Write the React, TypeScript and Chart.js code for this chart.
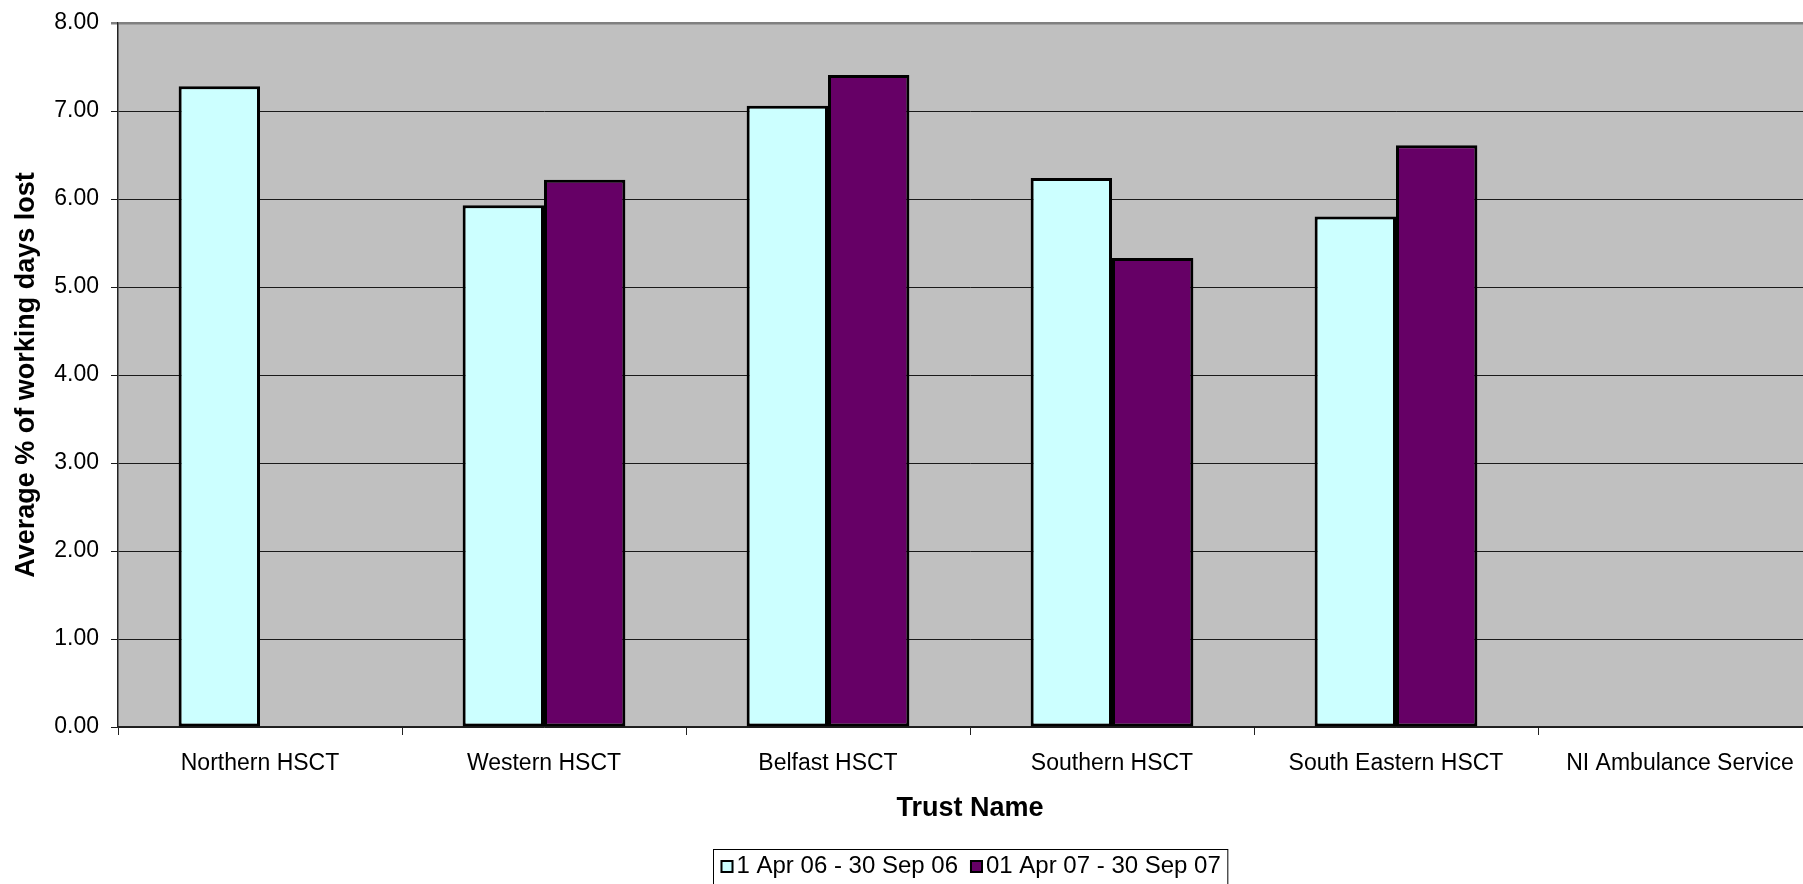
import React, { useEffect, useRef } from "react";
import { Chart, registerables } from "chart.js";

Chart.register(...registerables);

const categories = [
  "Northern HSCT",
  "Western HSCT",
  "Belfast HSCT",
  "Southern HSCT",
  "South Eastern HSCT",
  "NI Ambulance Service",
];
const series2006 = [7.28, 5.93, 7.06, 6.24, 5.8, null];
const series2007 = [null, 6.22, 7.41, 5.33, 6.61, null];
const seriesLabels = ["1 Apr 06 - 30 Sep 06", "01 Apr 07 - 30 Sep 07"];
const seriesColors = ["#CCFFFF", "#660066"];
const yTitle = "Average % of working days lost";
const xTitle = "Trust Name";

const FONT = "'Liberation Sans', Arial, sans-serif";

const plotBg = {
  id: "plotBg",
  beforeDraw(chart: any) {
    const { ctx, chartArea } = chart;
    ctx.save();
    ctx.fillStyle = "#C0C0C0";
    ctx.fillRect(chartArea.left, chartArea.top, chartArea.right - chartArea.left, chartArea.bottom - chartArea.top);
    ctx.restore();
  },
};

const boxedLegend = {
  id: "boxedLegend",
  afterDraw(chart: any) {
    const { ctx, chartArea } = chart;
    const fontSize = 24;
    const box = 13;
    const gapBoxText = 3;
    const gapItems = 12;
    const padX = 7;
    ctx.save();
    ctx.font = `${fontSize}px ${FONT}`;
    const items = chart.data.datasets.map((ds: any) => ({
      text: ds.label,
      color: ds.backgroundColor,
      w: ctx.measureText(ds.label).width,
    }));
    let total = padX * 2;
    items.forEach((it: any, i: number) => {
      total += box + gapBoxText + it.w + (i < items.length - 1 ? gapItems : 0);
    });
    const cx = (chartArea.left + chartArea.right) / 2;
    const left = Math.round(cx - total / 2) + 0.5;
    const top = 841.5;
    const bottom = 900;
    ctx.fillStyle = "#FFFFFF";
    ctx.fillRect(left, top, total, bottom - top);
    ctx.strokeStyle = "#000";
    ctx.lineWidth = 1;
    ctx.strokeRect(left, top, total, bottom - top);
    const baseY = 865;
    const boxTop = 852;
    let x = left + padX;
    items.forEach((it: any) => {
      ctx.fillStyle = it.color;
      ctx.fillRect(x, boxTop, box, box);
      ctx.strokeStyle = "#000";
      ctx.lineWidth = 2;
      ctx.strokeRect(x + 1, boxTop + 1, box - 2, box - 2);
      x += box + gapBoxText;
      ctx.fillStyle = "#000";
      ctx.textBaseline = "alphabetic";
      ctx.textAlign = "left";
      ctx.fillText(it.text, x, baseY);
      x += it.w + gapItems;
    });
    ctx.restore();
  },
};

export default function App() {
  const ref = useRef<HTMLCanvasElement>(null);
  useEffect(() => {
    if (!ref.current) return;
    const chart = new Chart(ref.current, {
      type: "bar",
      data: {
        labels: categories,
        datasets: [
          {
            label: seriesLabels[0],
            data: series2006,
            backgroundColor: seriesColors[0],
            borderColor: "#000",
            borderWidth: 3,
            borderSkipped: false,
            categoryPercentage: 0.573,
            barPercentage: 1,
          },
          {
            label: seriesLabels[1],
            data: series2007,
            backgroundColor: seriesColors[1],
            borderColor: "#000",
            borderWidth: 3,
            borderSkipped: false,
            categoryPercentage: 0.573,
            barPercentage: 1,
          },
        ],
      } as any,
      options: {
        responsive: false,
        animation: false,
        layout: { padding: { top: 15, right: 0, bottom: 57, left: 0 } },
        plugins: {
          legend: { display: false },
          tooltip: { enabled: false },
        },
        scales: {
          x: {
            offset: true,
            grid: {
              display: true,
              drawOnChartArea: false,
              drawTicks: true,
              tickLength: 8,
              offset: true,
              color: "#222",
            },
            border: { display: true, color: "#222", width: 1.5 },
            ticks: {
              color: "#000",
              font: { family: FONT, size: 23 },
              padding: 15,
              maxRotation: 0,
              autoSkip: false,
            },
            title: {
              display: true,
              text: xTitle,
              color: "#000",
              font: { family: FONT, size: 27, weight: "bold" },
              padding: { top: 0, bottom: 2 },
            },
            afterFit(scale: any) {
              scale.height = 100;
              scale.paddingLeft = 0;
              scale.paddingRight = 0;
            },
          },
          y: {
            min: 0,
            max: 8,
            ticks: {
              stepSize: 1,
              color: "#000",
              font: { family: FONT, size: 23 },
              padding: 12,
              callback: (v: any) => Number(v).toFixed(2),
            },
            grid: {
              drawTicks: true,
              tickLength: 7,
              color: (c: any) => (c.tick && c.tick.value === 8 ? "#808080" : "#1a1a1a"),
              lineWidth: (c: any) => (c.tick && c.tick.value === 8 ? 2.5 : 1),
            },
            border: { display: true, color: "#222", width: 1.5 },
            title: {
              display: true,
              text: yTitle,
              color: "#000",
              font: { family: FONT, size: 27, weight: "bold" },
              padding: { top: 2, bottom: 0 },
            },
            afterFit(scale: any) {
              scale.width = 110;
              scale.paddingTop = 0;
              scale.paddingBottom = 0;
            },
          },
        },
      } as any,
      plugins: [plotBg, boxedLegend],
    });
    return () => chart.destroy();
  }, []);
  return (
    <div
      style={{
        position: "fixed",
        left: 8,
        top: 8,
        width: 1795,
        height: 876,
        overflow: "hidden",
        background: "#fff",
      }}
    >
      <canvas ref={ref} width={1814} height={876} style={{ display: "block" }} />
    </div>
  );
}
